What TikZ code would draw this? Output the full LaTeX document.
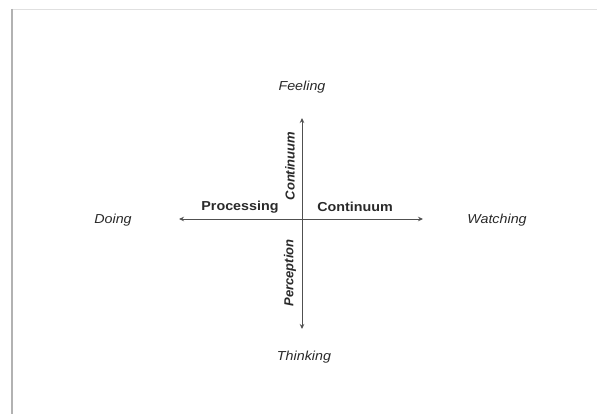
\documentclass[tikz,border=0pt]{standalone}
\usepackage{fontspec}
\setmainfont{Liberation Sans}
\usetikzlibrary{arrows.meta}
\definecolor{txt}{HTML}{2A2A2A}
\definecolor{axis}{HTML}{505050}
\tikzset{
  pole/.style={font=\fontsize{13}{15}\selectfont\itshape, text=txt, inner sep=1pt},
  axlabel/.style={font=\fontsize{13}{15}\selectfont\bfseries, text=txt, inner sep=1pt},
  vlabel/.style={axlabel, font=\fontsize{13}{15}\selectfont\bfseries\itshape, rotate=90},
  axisline/.style={draw=axis, line width=0.9pt, -{Stealth[length=5pt,width=4.5pt]}},
}
\begin{document}
\begin{tikzpicture}[x=1pt,y=-1pt]
\useasboundingbox (0,0) rectangle (597,414);
\fill[white] (0,0) rectangle (597,414);
% frame
\draw[draw=black!12, line width=1.5pt] (11,9.5) -- (597,9.5);
\draw[draw=black!30, line width=2pt] (11.5,9) -- (11.5,414);
% centre and ends
\coordinate (c) at (302,219);
\coordinate (top) at (302,118);
\coordinate (bot) at (302,329);
\coordinate (left) at (179,219);
\coordinate (right) at (423,219);
\draw[axisline] (c) -- (top);
\draw[axisline] (c) -- (bot);
\draw[axisline] (c) -- (left);
\draw[axisline] (c) -- (right);
% pole labels
\node[pole] (feel) at (302,87) {\scalebox{1.1}[1]{Feeling}};
\node[pole] (think) at (304,357) {\scalebox{1.1}[1]{Thinking}};
\node[pole] (doing) at (113,220) {\scalebox{1.1}[1]{Doing}};
\node[pole] (watch) at (497,220) {\scalebox{1.1}[1]{Watching}};
% axis labels
\node[axlabel] (proc) at (240,207) {\scalebox{1.1}[1]{Processing}};
\node[axlabel] (contH) at (355,207) {\scalebox{1.1}[1]{Continuum}};
\node[vlabel] (contV) at (290,166) {Continuum};
\node[vlabel] (perc) at (290,273) {Perception};
\end{tikzpicture}
\end{document}
